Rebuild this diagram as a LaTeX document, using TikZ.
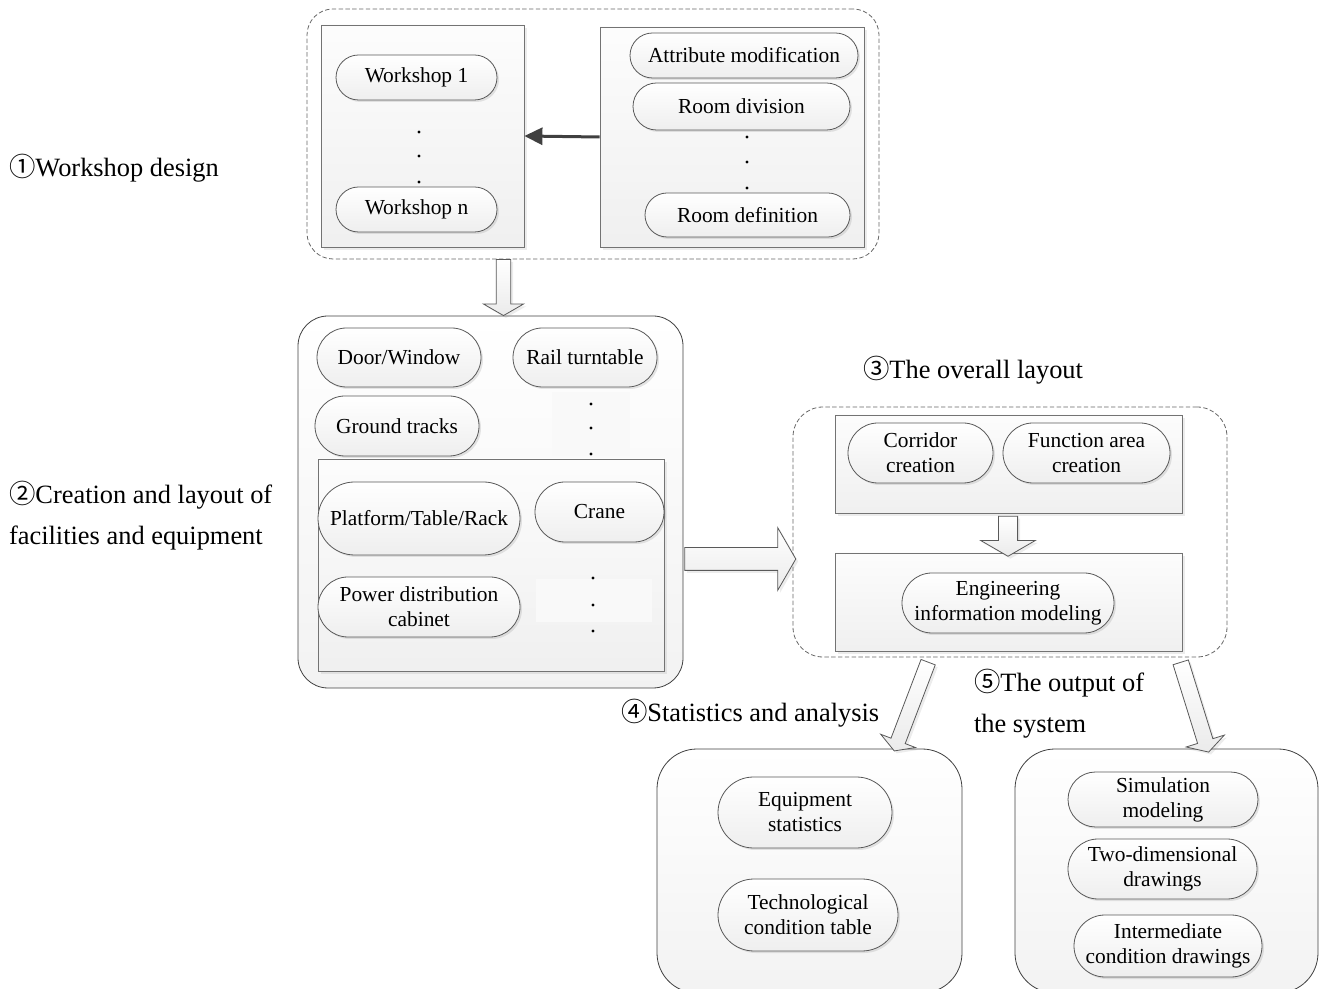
\documentclass[tikz,border=0pt]{standalone}
\usepackage{fontspec}
\setmainfont{Liberation Serif}
\newfontfamily\cjk{Noto Sans CJK SC}
\usetikzlibrary{shapes.misc,shapes.arrows,shadows,arrows.meta}

\begin{document}
\begin{tikzpicture}[x=0.5pt, y=-0.5pt, >={Triangle[length=9pt,width=8.5pt]},
    pill/.style={rounded rectangle, draw=black!65, top color=white, bottom color=gray!13,
        drop shadow={shadow xshift=1pt, shadow yshift=-1pt, opacity=0.2},
        align=center, inner sep=0pt, font=\fontsize{10.7}{12.5}\selectfont},
    box/.style={rectangle, draw=black!55, top color=gray!2, bottom color=gray!12,
        drop shadow={shadow xshift=1.5pt, shadow yshift=-1.5pt, opacity=0.15}, inner sep=0pt},
    group/.style={rectangle, rounded corners=13pt, draw=black!60, dash pattern=on 2.2pt off 1.2pt,
        line width=0.4pt, inner sep=0pt},
    panel/.style={rectangle, rounded corners=15pt, draw=black!75, top color=white, bottom color=gray!10,
        inner sep=0pt},
    bigarrow/.style={single arrow, draw=black!65, top color=white, bottom color=gray!16,
        single arrow tip angle=120, inner xsep=0pt, minimum width=0pt,
        drop shadow={shadow xshift=1.2pt, shadow yshift=-1.2pt, opacity=0.15}},
    faint/.style={rectangle, fill=gray!5, inner sep=0pt},
    dot/.style={circle, fill=black, inner sep=0.6pt},
    label/.style={anchor=west, align=left, font=\fontsize{13.2}{20.5}\selectfont}]

    \useasboundingbox (0,0) rectangle (1319,989);
    \clip (0,0) rectangle (1319,989);

    % --- 1. Workshop design ---
    \node[group, minimum width=286pt, minimum height=125pt] (grpWs) at (593,134) {};
    \node[box, minimum width=101.5pt, minimum height=111pt] (wsBox) at (422.5,136) {};
    \node[box, minimum width=132pt, minimum height=110pt] (roomBox) at (732,137) {};
    \node[pill, minimum width=80.5pt, minimum height=22.5pt] (ws1) at (416.5,77.5) {Workshop 1};
    \node[pill, minimum width=80.5pt, minimum height=22.5pt] (wsN) at (416.5,209.5) {Workshop n};
    \foreach \y [count=\i] in {132,156,182} \node[dot] (wsDot\i) at (419,\y) {};
    \node[pill, minimum width=114pt, minimum height=22.5pt] (attr) at (744,55.5) {Attribute modification};
    \node[pill, minimum width=108.5pt, minimum height=23.5pt] (rdiv) at (741.5,106.5) {Room division};
    \node[pill, minimum width=102.5pt, minimum height=22pt] (rdef) at (747.5,215) {Room definition};
    \foreach \y [count=\i] in {137,162,188} \node[dot] (roomDot\i) at (747,\y) {};
    \draw[->, black!75, line width=1.5pt] (roomBox.west) -- (wsBox.east);

    \node[label] (lblWs) at (2,168) {{\cjk ①}Workshop design};

    % --- 2. Facilities and equipment ---
    \node[panel, minimum width=192.5pt, minimum height=186pt] (grpFac) at (490.5,502) {};
    \node[faint, minimum width=39pt, minimum height=32pt] (railFaint) at (591,424) {};
    \node[pill, minimum width=82pt, minimum height=29.5pt] (door) at (399,357.5) {Door/Window};
    \node[pill, minimum width=72pt, minimum height=29.5pt] (rail) at (585,357.5) {Rail turntable};
    \node[pill, minimum width=82pt, minimum height=30pt] (ground) at (397,426) {Ground tracks};
    \foreach \y [count=\i] in {404,428,454} \node[dot] (railDot\i) at (591,\y) {};
    \node[box, minimum width=173pt, minimum height=106pt] (equipBox) at (491,565) {};
    \node[faint, minimum width=58pt, minimum height=21.5pt] (craneFaint) at (594,600.5) {};
    \node[pill, minimum width=101pt, minimum height=36.5pt] (plat) at (419,518.5) {Platform/Table/Rack};
    \node[pill, minimum width=64.5pt, minimum height=30pt] (crane) at (599.5,512) {Crane};
    \node[pill, minimum width=101pt, minimum height=30pt] (power) at (419,607) {Power distribution\\cabinet};
    \foreach \y [count=\i] in {578,605,631} \node[dot] (craneDot\i) at (593,\y) {};

    \node[label] (lblFac) at (2,516) {{\cjk ②}Creation and layout of\\facilities and equipment};

    % --- 3. Overall layout ---
    \node[group, rounded corners=15pt, minimum width=217pt, minimum height=125pt] (grpLay) at (1010,532) {};
    \node[box, minimum width=173.5pt, minimum height=49pt] (areaBox) at (1008.5,464) {};
    \node[pill, minimum width=72.5pt, minimum height=30pt] (corr) at (920.5,453) {Corridor\\creation};
    \node[pill, minimum width=83.5pt, minimum height=30pt] (func) at (1086.5,453) {Function area\\creation};
    \node[box, minimum width=173.5pt, minimum height=49pt] (engBox) at (1008.5,602) {};
    \node[pill, minimum width=106pt, minimum height=30pt] (eng) at (1008,603) {Engineering\\information modeling};

    \node[label] (lblLay) at (856,370) {{\cjk ③}The overall layout};

    % --- 4. / 5. Outputs ---
    \node[panel, rounded corners=20pt, minimum width=152.5pt, minimum height=122pt] (grpStat) at (809.5,871) {};
    \node[pill, minimum width=87pt, minimum height=35.5pt] (equip) at (805,812.5) {Equipment\\statistics};
    \node[pill, minimum width=90pt, minimum height=36pt] (tech) at (808,915) {Technological\\condition table};
    \node[panel, rounded corners=20pt, minimum width=151.5pt, minimum height=122pt] (grpOut) at (1166.5,871) {};
    \node[pill, minimum width=95pt, minimum height=27.5pt] (sim) at (1163,799.5) {Simulation\\modeling};
    \node[pill, minimum width=94.5pt, minimum height=30pt] (twoD) at (1162.5,869) {Two-dimensional\\drawings};
    \node[pill, minimum width=94pt, minimum height=31pt] (inter) at (1168,946) {Intermediate\\condition drawings};

    \node[label] (lblStat) at (614,713) {{\cjk ④}Statistics and analysis};
    \node[label] (lblOut) at (967,704) {{\cjk ⑤}The output of\\the system};

    % --- hollow flow arrows ---
    \node[bigarrow, inner ysep=3.4pt, single arrow head extend=6.5pt, minimum height=28pt, rotate=-90]
        (flowA) at (503.5,285.5) {};
    \node[bigarrow, inner ysep=5.5pt, single arrow head extend=10pt, minimum height=55.5pt]
        (flowB) at (737,559) {};
    \node[bigarrow, inner ysep=4.6pt, single arrow head extend=8.8pt, minimum height=20pt, rotate=-90]
        (flowC) at (1008,533.5) {};
    \node[bigarrow, inner ysep=3.6pt, single arrow head extend=5.5pt, minimum height=47.5pt, rotate=-110.9]
        (flowD) at (912,704.5) {};
    \node[bigarrow, inner ysep=3.8pt, single arrow head extend=6pt, minimum height=47pt, rotate=-72.7]
        (flowE) at (1194,705) {};
\end{tikzpicture}
\end{document}
